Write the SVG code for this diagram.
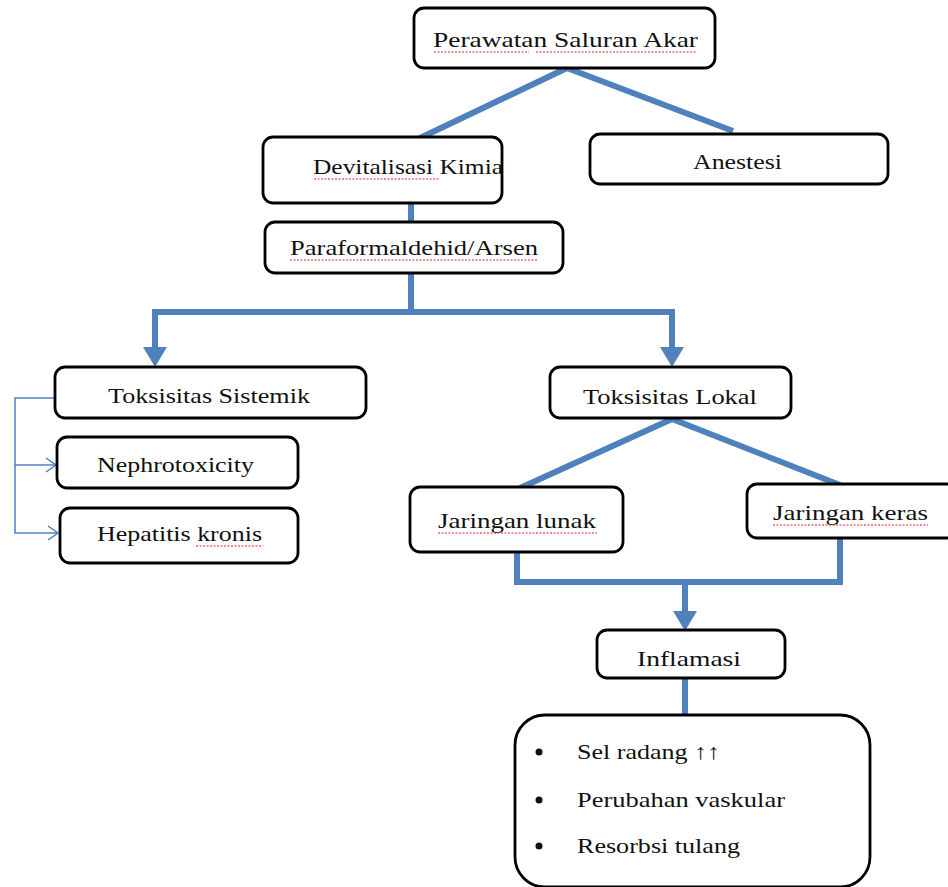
<svg xmlns="http://www.w3.org/2000/svg" width="948" height="887" viewBox="0 0 948 887">
<defs>
<style>
.box{fill:#fff;stroke:#000;stroke-width:2.8}
.t{font-family:"Liberation Serif","Times New Roman",serif;font-size:21.5px;fill:#111}
.c{fill:none;stroke:#4F81BD;stroke-width:6}
.thin{fill:none;stroke:#4F81BD;stroke-width:1.5}
.sq{fill:none;stroke:#e02020;stroke-width:1;stroke-dasharray:2 1.5}
</style>
<marker id="ah" markerUnits="userSpaceOnUse" viewBox="0 -12 20 24" refX="8" refY="0" markerWidth="20" markerHeight="24" orient="auto">
<path d="M0,-12 L20,0 L0,12 z" fill="#4F81BD"/>
</marker>
<marker id="oa" markerUnits="userSpaceOnUse" viewBox="0 -8 12 16" refX="11" refY="0" markerWidth="12" markerHeight="16" orient="auto">
<path d="M1,-7 L11,0 L1,7" fill="none" stroke="#4F81BD" stroke-width="1.5"/>
</marker>
</defs>
<rect width="948" height="887" fill="#fff"/>
<g id="connectors">
<path class="c" d="M567 68 L420 138"/>
<path class="c" d="M567 68 L733 131"/>
<path class="c" d="M411 203 V222"/>
<path class="c" d="M411 273 V312 H155 V355" marker-end="url(#ah)"/>
<path class="c" d="M411 312 H672 V355" marker-end="url(#ah)"/>
<path class="c" d="M672 419 L520 488"/>
<path class="c" d="M672 419 L840 485"/>
<path class="c" d="M517 552 V582 H840 V538"/>
<path class="c" d="M685 582 V619" marker-end="url(#ah)"/>
<path class="c" d="M685 678 V716"/>
<path class="thin" d="M55 398 H15 V533 H58" marker-end="url(#oa)"/>
<path class="thin" d="M15 465 H56" marker-end="url(#oa)"/>
</g>
<g id="n1"><rect class="box" x="414" y="8" width="301" height="60" rx="10"/>
<text class="t" x="433" y="47" textLength="265" lengthAdjust="spacingAndGlyphs">Perawatan Saluran Akar</text>
<path class="sq" d="M434 52 H529 M536 52 H696"/></g>
<g id="n2"><rect class="box" x="263" y="137" width="239" height="66" rx="10"/>
<text class="t" x="313" y="174" textLength="190" lengthAdjust="spacingAndGlyphs">Devitalisasi Kimia</text>
<path class="sq" d="M314 179 H440"/></g>
<g id="n3"><rect class="box" x="590" y="134" width="298" height="50" rx="10"/>
<text class="t" x="693" y="169" textLength="89" lengthAdjust="spacingAndGlyphs">Anestesi</text></g>
<g id="n4"><rect class="box" x="265" y="222" width="298" height="51" rx="10"/>
<text class="t" x="290" y="255" textLength="248" lengthAdjust="spacingAndGlyphs">Paraformaldehid/Arsen</text>
<path class="sq" d="M290 260 H538"/></g>
<g id="n5"><rect class="box" x="55" y="367" width="311" height="51" rx="10"/>
<text class="t" x="108" y="403" textLength="202" lengthAdjust="spacingAndGlyphs">Toksisitas Sistemik</text></g>
<g id="n6"><rect class="box" x="57" y="437" width="241" height="51" rx="10"/>
<text class="t" x="97" y="472" textLength="157" lengthAdjust="spacingAndGlyphs">Nephrotoxicity</text></g>
<g id="n7"><rect class="box" x="60" y="508" width="238" height="55" rx="10"/>
<text class="t" x="97" y="541" textLength="165" lengthAdjust="spacingAndGlyphs">Hepatitis kronis</text>
<path class="sq" d="M196 546 H263"/></g>
<g id="n8"><rect class="box" x="550" y="367" width="241" height="51" rx="10"/>
<text class="t" x="583" y="404" textLength="174" lengthAdjust="spacingAndGlyphs">Toksisitas Lokal</text></g>
<g id="n9"><rect class="box" x="410" y="487" width="213" height="65" rx="10"/>
<text class="t" x="438" y="528" textLength="158" lengthAdjust="spacingAndGlyphs">Jaringan lunak</text>
<path class="sq" d="M438 533 H597"/></g>
<g id="n10"><rect class="box" x="747" y="484" width="210" height="54" rx="10"/>
<text class="t" x="773" y="520" textLength="155" lengthAdjust="spacingAndGlyphs">Jaringan keras</text>
<path class="sq" d="M773 525 H928"/></g>
<g id="n11"><rect class="box" x="597" y="630" width="188" height="48" rx="10"/>
<text class="t" x="637" y="666" textLength="104" lengthAdjust="spacingAndGlyphs">Inflamasi</text></g>
<g id="n12"><rect class="box" x="515" y="715" width="355" height="172" rx="30"/>
<circle cx="539" cy="752" r="3.5" fill="#111"/>
<circle cx="539" cy="800" r="3.5" fill="#111"/>
<circle cx="539" cy="846" r="3.5" fill="#111"/>
<text class="t" x="577" y="759" textLength="143" lengthAdjust="spacingAndGlyphs">Sel radang ↑↑</text>
<text class="t" x="577" y="807" textLength="208" lengthAdjust="spacingAndGlyphs">Perubahan vaskular</text>
<text class="t" x="577" y="853" textLength="163" lengthAdjust="spacingAndGlyphs">Resorbsi tulang</text></g>
</svg>
